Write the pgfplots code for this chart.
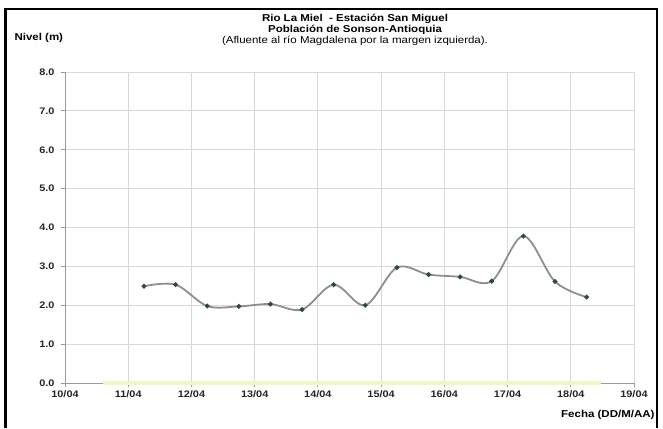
\documentclass[border=0pt]{standalone}
\usepackage{pgfplots}
\pgfplotsset{compat=1.18}
\usepackage{fontspec}
\setmainfont{Liberation Sans}
\definecolor{gridc}{HTML}{D8D8D8}
\definecolor{axc}{HTML}{9A9A9A}
\definecolor{linec}{HTML}{8E8E8E}
\definecolor{markc}{HTML}{2E4A3C}
\definecolor{yel}{HTML}{F3F6C2}
\newcommand\sx[1]{\scalebox{1.15}[1]{#1}}
\begin{document}
\begin{tikzpicture}[x=1bp,y=1bp]
\useasboundingbox (0,0) rectangle (663,428);
\draw[black,line width=2.5bp] (5.5,0) -- (5.5,419) -- (657,419) -- (657,0);
\begin{axis}[
  at={(65bp,45bp)}, anchor=south west,
  scale only axis, width=569bp, height=311bp,
  xmin=10, xmax=19, ymin=0, ymax=8,
  axis lines=left, axis line style={-, draw=axc, line width=0.9bp},
  xtick={10,...,19},
  xticklabels={\sx{10/04},\sx{11/04},\sx{12/04},\sx{13/04},\sx{14/04},\sx{15/04},\sx{16/04},\sx{17/04},\sx{18/04},\sx{19/04}},
  ytick={0,...,8},
  yticklabels={\sx{0.0},\sx{1.0},\sx{2.0},\sx{3.0},\sx{4.0},\sx{5.0},\sx{6.0},\sx{7.0},\sx{8.0}},
  tick label style={font=\fontsize{9.5bp}{11bp}\selectfont\bfseries, text=black!85},
  tick align=outside, major tick length=4bp,
  tick style={draw=axc, line width=0.8bp},
  xticklabel style={yshift=0bp},
  yticklabel style={xshift=-3bp},
  grid=major, major grid style={draw=gridc, line width=0.8bp},
  clip=false,
]
\addplot[yel, line width=4bp] coordinates {(10.6,0) (18.47,0)};
\addplot[linec, line width=1.8bp, smooth, tension=0.55, mark=*, mark size=1.4bp,
  mark options={fill=markc, draw=markc}] coordinates {
(11.25,2.49) (11.75,2.53) (12.25,1.98) (12.75,1.97) (13.25,2.03)
(13.75,1.89) (14.25,2.53) (14.75,2.00) (15.25,2.97) (15.75,2.79)
(16.25,2.73) (16.75,2.62) (17.25,3.78) (17.75,2.61) (18.25,2.21)
};
\end{axis}
\begin{scope}[font=\fontsize{10bp}{12bp}\selectfont\bfseries]
\node at (355,428-19) {\sx{Rio La Miel\ \ - Estación San Miguel}};
\node at (355,428-30) {\sx{Población de Sonson-Antioquia}};
\node[font=\fontsize{10bp}{12bp}\selectfont] at (355,428-41) {\sx{(Afluente al río Magdalena por la margen izquierda).}};
\node[anchor=west] at (11,428-38) {\sx{Nivel (m)}};
\node[anchor=east] at (658,428-415) {\sx{Fecha (DD/M/AA)}};
\end{scope}
\end{tikzpicture}
\end{document}
